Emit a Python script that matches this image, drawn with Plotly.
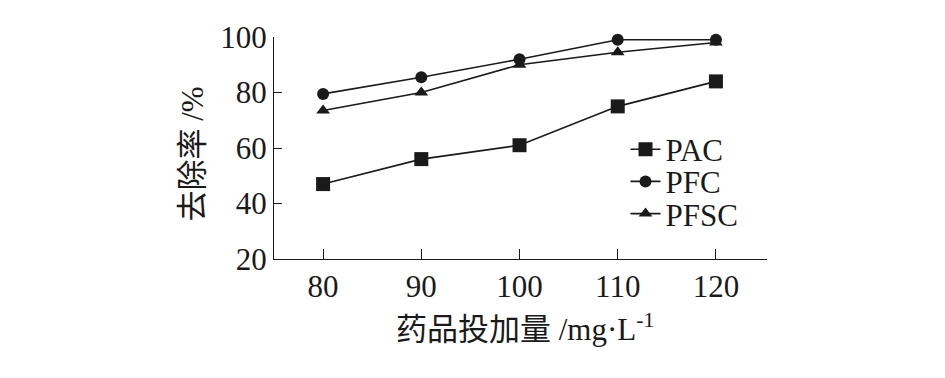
import plotly.graph_objects as go

dose = [80, 90, 100, 110, 120]
pac = [47, 56, 61, 75, 84]
pfc = [79.5, 85.5, 92, 99, 99]
pfsc = [73.5, 80, 90, 94.5, 98]

y_ticks = [20, 40, 60, 80, 100]
x_ticks = [80, 90, 100, 110, 120]

FONT = "Liberation Serif, Times New Roman, Noto Sans CJK SC, serif"
INK = "#1a1a1a"

fig = go.Figure()
series = [
    ("PAC", pac, "square", 14, "legend", 0.493),
    ("PFC", pfc, "circle", 12, "legend2", 0.348),
    ("PFSC", pfsc, "triangle-up", 12, "legend3", 0.203),
]
leg_cfg = {}
for name, vals, sym, sz, leg, ly in series:
    fig.add_trace(go.Scatter(
        x=dose, y=vals, name=name, mode="lines+markers",
        line=dict(color=INK, width=1.6),
        marker=dict(symbol=sym, size=sz, color=INK),
        cliponaxis=False, legend=leg,
    ))
    leg_cfg[leg] = dict(x=0.713, y=ly, xanchor="left", yanchor="middle",
                        bgcolor="rgba(0,0,0,0)", font=dict(size=31, family=FONT, color=INK),
                        itemwidth=30, borderwidth=0)

# the page body has an 8px margin; compensate so the plot area lands where the reference's does
fig.update_layout(
    width=937, height=370,
    margin=dict(l=266, r=178, t=24, b=119, pad=0),
    paper_bgcolor="white", plot_bgcolor="white",
    font=dict(family=FONT, size=31, color=INK),
    showlegend=True,
    **leg_cfg,
)
fig.update_xaxes(
    range=[75, 125.2], tickvals=x_ticks + [125.2], ticktext=[str(v) for v in x_ticks] + [""],
    showline=True, linecolor=INK, linewidth=1.3,
    ticks="inside", ticklen=10, tickcolor=INK, tickwidth=1.3,
    showgrid=False, zeroline=False, tickfont=dict(size=31, family=FONT, color=INK),
)
fig.update_yaxes(
    range=[20, 100], tickvals=y_ticks,
    showline=True, linecolor=INK, linewidth=1.3,
    ticks="inside", ticklen=8, tickcolor=INK, tickwidth=1.3,
    showgrid=False, zeroline=False, tickfont=dict(size=31, family=FONT, color=INK),
)
fig.add_annotation(
    text="去除率 /%", textangle=-90, xref="paper", yref="paper",
    x=0, y=0.5, xanchor="right", yanchor="middle", xshift=-63, yshift=-6, showarrow=False,
    font=dict(size=31, family=FONT, color=INK),
)
fig.add_annotation(
    text="药品投加量 /mg·L<sup>-1</sup>", xref="paper", yref="paper",
    x=0.5, y=0, xanchor="center", yanchor="top", xshift=4, yshift=-47, showarrow=False,
    font=dict(size=31, family=FONT, color=INK),
)

fig.write_html("out.html")
